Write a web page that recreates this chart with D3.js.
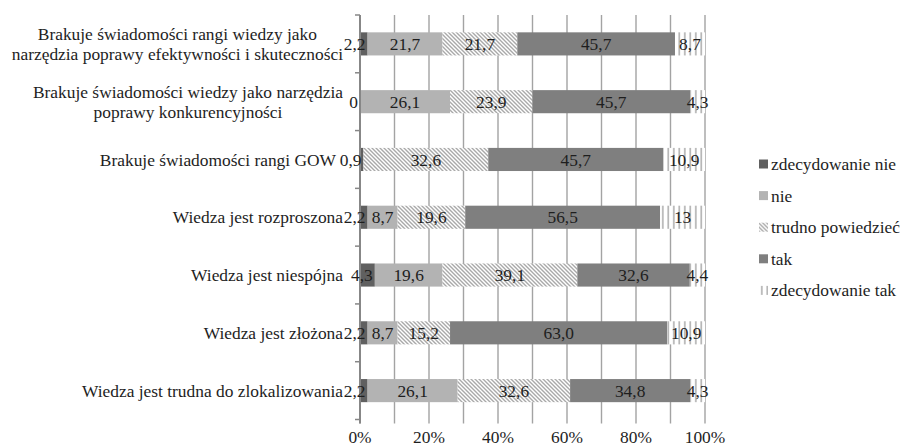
<!DOCTYPE html>
<html>
<head>
<meta charset="utf-8">
<script src="https://cdn.jsdelivr.net/npm/d3@7"></script>
<style>
  html, body { margin: 0; padding: 0; background: #fff; }
  svg { display: block; }
  svg text { fill: #1e1e1e; }
</style>
</head>
<body>
<svg id="chart" width="903" height="448"></svg>
<script>
// Survey answers, per statement (percent of respondents, written as printed)
const categories = [
  ["Brakuje świadomości rangi wiedzy jako", "narzędzia poprawy efektywności i skuteczności"],
  ["Brakuje świadomości wiedzy jako narzędzia", "poprawy konkurencyjności"],
  ["Brakuje świadomości rangi GOW"],
  ["Wiedza jest rozproszona"],
  ["Wiedza jest niespójna"],
  ["Wiedza jest złożona"],
  ["Wiedza jest trudna do zlokalizowania"]
];
const seriesNames = ["zdecydowanie nie", "nie", "trudno powiedzieć", "tak", "zdecydowanie tak"];
const zdecydowanieNie = ["2,2", "0", "0,9", "2,2", "4,3", "2,2", "2,2"];
const nie = ["21,7", "26,1", null, "8,7", "19,6", "8,7", "26,1"];
const trudnoPowiedziec = ["21,7", "23,9", "32,6", "19,6", "39,1", "15,2", "32,6"];
const tak = ["45,7", "45,7", "45,7", "56,5", "32,6", "63,0", "34,8"];
const zdecydowanieTak = ["8,7", "4,3", "10,9", "13", "4,4", "10,9", "4,3"];
const tickValues = [0, 0.2, 0.4, 0.6, 0.8, 1.0];
const tickLabels = ["0%", "20%", "40%", "60%", "80%", "100%"];

const seriesValues = [zdecydowanieNie, nie, trudnoPowiedziec, tak, zdecydowanieTak];
const num = s => (s === null ? 0 : +s.replace(",", "."));
const FS = 17.4;

const svg = d3.select("#chart")
  .style("font-family", "'Liberation Serif', 'Times New Roman', serif");

const defs = svg.append("defs");

// diagonal hatch
const hatch = defs.append("pattern").attr("id", "hatch")
  .attr("patternUnits", "userSpaceOnUse").attr("width", 4).attr("height", 4);
hatch.append("rect").attr("width", 4).attr("height", 4).attr("fill", "#fff");
hatch.append("path").attr("d", "M-1,-1 L5,5 M-1,3 L1,5 M3,-1 L5,1")
  .attr("stroke", "#a9a9a9").attr("stroke-width", 1.4);

// vertical stripes
const vstripe = defs.append("pattern").attr("id", "vstripe")
  .attr("patternUnits", "userSpaceOnUse").attr("width", 5.5).attr("height", 10);
vstripe.append("rect").attr("width", 5.5).attr("height", 10).attr("fill", "#fff");
vstripe.append("rect").attr("x", 2).attr("width", 1.6).attr("height", 10).attr("fill", "#b0b0b0");

const fills = ["#606060", "#b3b3b3", "url(#hatch)", "#7f7f7f", "url(#vstripe)"];

const margin = { left: 360, right: 198, top: 15, bottom: 28.5 };
const width = 903 - margin.left - margin.right;
const plotBottom = 448 - margin.bottom;

const rows = categories.map((c, i) => {
  const r = { idx: i };
  seriesNames.forEach((s, k) => { r[s] = num(seriesValues[k][i]); });
  return r;
});

const stack = d3.stack().keys(seriesNames).offset(d3.stackOffsetExpand);
const layers = stack(rows);

const x = d3.scaleLinear().domain([0, 1]).range([margin.left, margin.left + width]);
const y = d3.scaleBand().domain(d3.range(categories.length))
  .range([margin.top, plotBottom]).paddingInner(0.6).paddingOuter(0.3);
const yOuter = d3.scaleBand().domain(d3.range(categories.length)).range([margin.top, plotBottom]);

// gridlines
svg.append("g").selectAll("line").data(d3.range(0, 1.0001, 0.1)).join("line")
  .attr("x1", d => x(d)).attr("x2", d => x(d))
  .attr("y1", margin.top).attr("y2", plotBottom + 4)
  .attr("stroke", "#a3a3a3").attr("stroke-width", 1.4);

// bars
const g = svg.append("g");
layers.forEach((layer, k) => {
  g.append("g").selectAll("rect").data(layer).join("rect")
    .attr("x", d => x(d[0]))
    .attr("width", d => Math.max(0, x(d[1]) - x(d[0])))
    .attr("y", (d, i) => y(i))
    .attr("height", y.bandwidth())
    .attr("fill", fills[k]);
});

// vertical axis with boundary ticks
const ax = svg.append("g");
ax.append("line").attr("x1", x(0)).attr("x2", x(0))
  .attr("y1", margin.top).attr("y2", plotBottom + 4)
  .attr("stroke", "#878787").attr("stroke-width", 2);
ax.selectAll("line.tick").data(d3.range(categories.length + 1)).join("line")
  .attr("class", "tick")
  .attr("x1", x(0) - 5).attr("x2", x(0))
  .attr("y1", i => margin.top + i * yOuter.step())
  .attr("y2", i => margin.top + i * yOuter.step())
  .attr("stroke", "#878787").attr("stroke-width", 1.5);

// category labels
const labelRight = { 2: 336 };
categories.forEach((lines, i) => {
  const cy = y(i) + y.bandwidth() / 2;
  const t = svg.append("text")
    .attr("font-size", FS)
    .attr("text-anchor", lines.length > 1 ? "middle" : "end");
  if (lines.length > 1) {
    // two-line labels are centred on their longer line
    const widths = lines.map(ln => {
      const tmp = svg.append("text").attr("font-size", FS).text(ln);
      const w = tmp.node().getComputedTextLength();
      tmp.remove();
      return w;
    });
    const cx = 343 - d3.max(widths) / 2;
    lines.forEach((ln, j) => {
      t.append("tspan").attr("x", cx).attr("y", cy + (j - 0.5) * 19.5).attr("dy", "0.35em").text(ln);
    });
  } else {
    t.attr("x", labelRight[i] ?? 343).attr("y", cy).attr("dy", "0.35em").text(lines[0]);
  }
});

// value labels; the narrow first segment gets its label ending near the segment's end
layers.forEach((layer, k) => {
  svg.append("g").selectAll("text").data(layer.filter((d, i) => seriesValues[k][i] !== null)).join("text")
    .attr("x", d => k === 0 ? x(d[1]) - 2 : (x(d[0]) + x(d[1])) / 2)
    .attr("y", d => y(d.data.idx) + y.bandwidth() / 2)
    .attr("dy", "0.35em")
    .attr("text-anchor", k === 0 ? "end" : "middle")
    .attr("font-size", FS)
    .text(d => seriesValues[k][d.data.idx]);
});

// x tick labels
svg.append("g").selectAll("text").data(tickValues).join("text")
  .attr("x", d => x(d)).attr("y", 437).attr("dy", "0.35em")
  .attr("text-anchor", "middle").attr("font-size", FS)
  .text((d, i) => tickLabels[i]);

// legend
const lg = svg.append("g").attr("transform", "translate(759,164)");
seriesNames.forEach((s, k) => {
  const row = lg.append("g").attr("transform", `translate(0,${k * 31.6})`);
  row.append("rect").attr("x", 0).attr("y", -4.5).attr("width", 9).attr("height", 9)
    .attr("fill", fills[k]);
  row.append("text").attr("x", 12).attr("y", 0).attr("dy", "0.35em")
    .attr("font-size", FS).text(s);
});
</script>
</body>
</html>
